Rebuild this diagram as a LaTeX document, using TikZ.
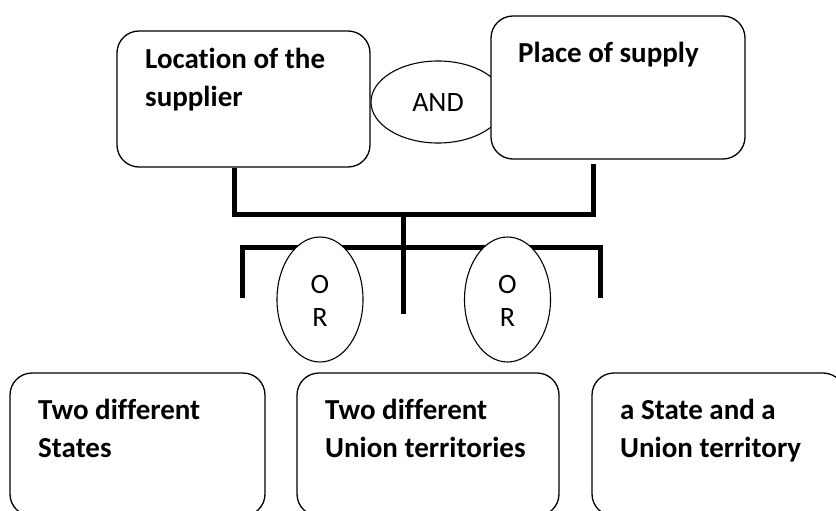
\documentclass[tikz,border=0pt]{standalone}
\usepackage{fontspec}
\setmainfont[Ligatures={NoCommon}]{Carlito}
\usetikzlibrary{shapes.geometric}
\begin{document}
\begin{tikzpicture}[x=1pt,y=-1pt,
  box/.style={draw=black,line width=1.3pt,rounded corners=22pt,fill=white,inner sep=0pt},
  oval/.style={draw=black,line width=1.1pt,ellipse,fill=white,inner sep=0pt},
  btext/.style={font=\fontsize{29}{37.5}\selectfont\bfseries,align=left,anchor=base west,inner sep=0pt},
  rtext/.style={font=\fontsize{28}{33}\selectfont,align=center,inner sep=0pt},
  bar/.style={line width=5pt,black}]
\clip (0,0) rectangle (836,511);
\fill[white] (0,0) rectangle (836,511);
% AND ellipse (behind box 2)
\node[oval,minimum width=134pt,minimum height=82pt] (and) at (438,102) {};
\node[rtext] (andt) at (438,103) {AND};
% top boxes
\node[box,minimum width=253pt,minimum height=136pt] (box1) at (243.5,99) {};
\node[box,minimum width=254pt,minimum height=143pt] (box2) at (618,87.5) {};
\node[btext] (t1) at (145,106.5) {Location of the\\supplier};
\node[btext] (t2) at (518,63) {Place of supply};
% connectors
\coordinate (j1) at (403,214.5);
\coordinate (j2) at (403,247);
\coordinate (lA) at (242,298);
\coordinate (rC) at (600,298);
\coordinate (m2) at (403,314);
\draw[bar] ([xshift=-9pt]box1.south) |- (j1) -| ([xshift=-25pt,yshift=-4pt]box2.south);
\draw[bar] (j1) -- (j2);
\draw[bar] (lA) |- (j2) -| (rC);
\draw[bar] (j2) -- (m2);
% OR ellipses
\node[oval,minimum width=86pt,minimum height=125pt] (or1) at (320,299.5) {};
\node[rtext] (or1t) at (320,301) {O\\R};
\node[oval,minimum width=86pt,minimum height=125pt] (or2) at (507.5,299.5) {};
\node[rtext] (or2t) at (507.5,301) {O\\R};
% bottom boxes
\node[box,minimum width=255pt,minimum height=143pt] (bA) at (137.5,444.5) {};
\node[box,minimum width=262pt,minimum height=143pt] (bB) at (428,444.5) {};
\node[box,minimum width=253pt,minimum height=143pt] (bC) at (718.5,444.5) {};
\node[btext] (tA) at (38,457) {Two different\\States};
\node[btext] (tB) at (325,457) {Two different\\Union territories};
\node[btext] (tC) at (620,457) {a State and a\\Union territory};
\end{tikzpicture}
\end{document}
